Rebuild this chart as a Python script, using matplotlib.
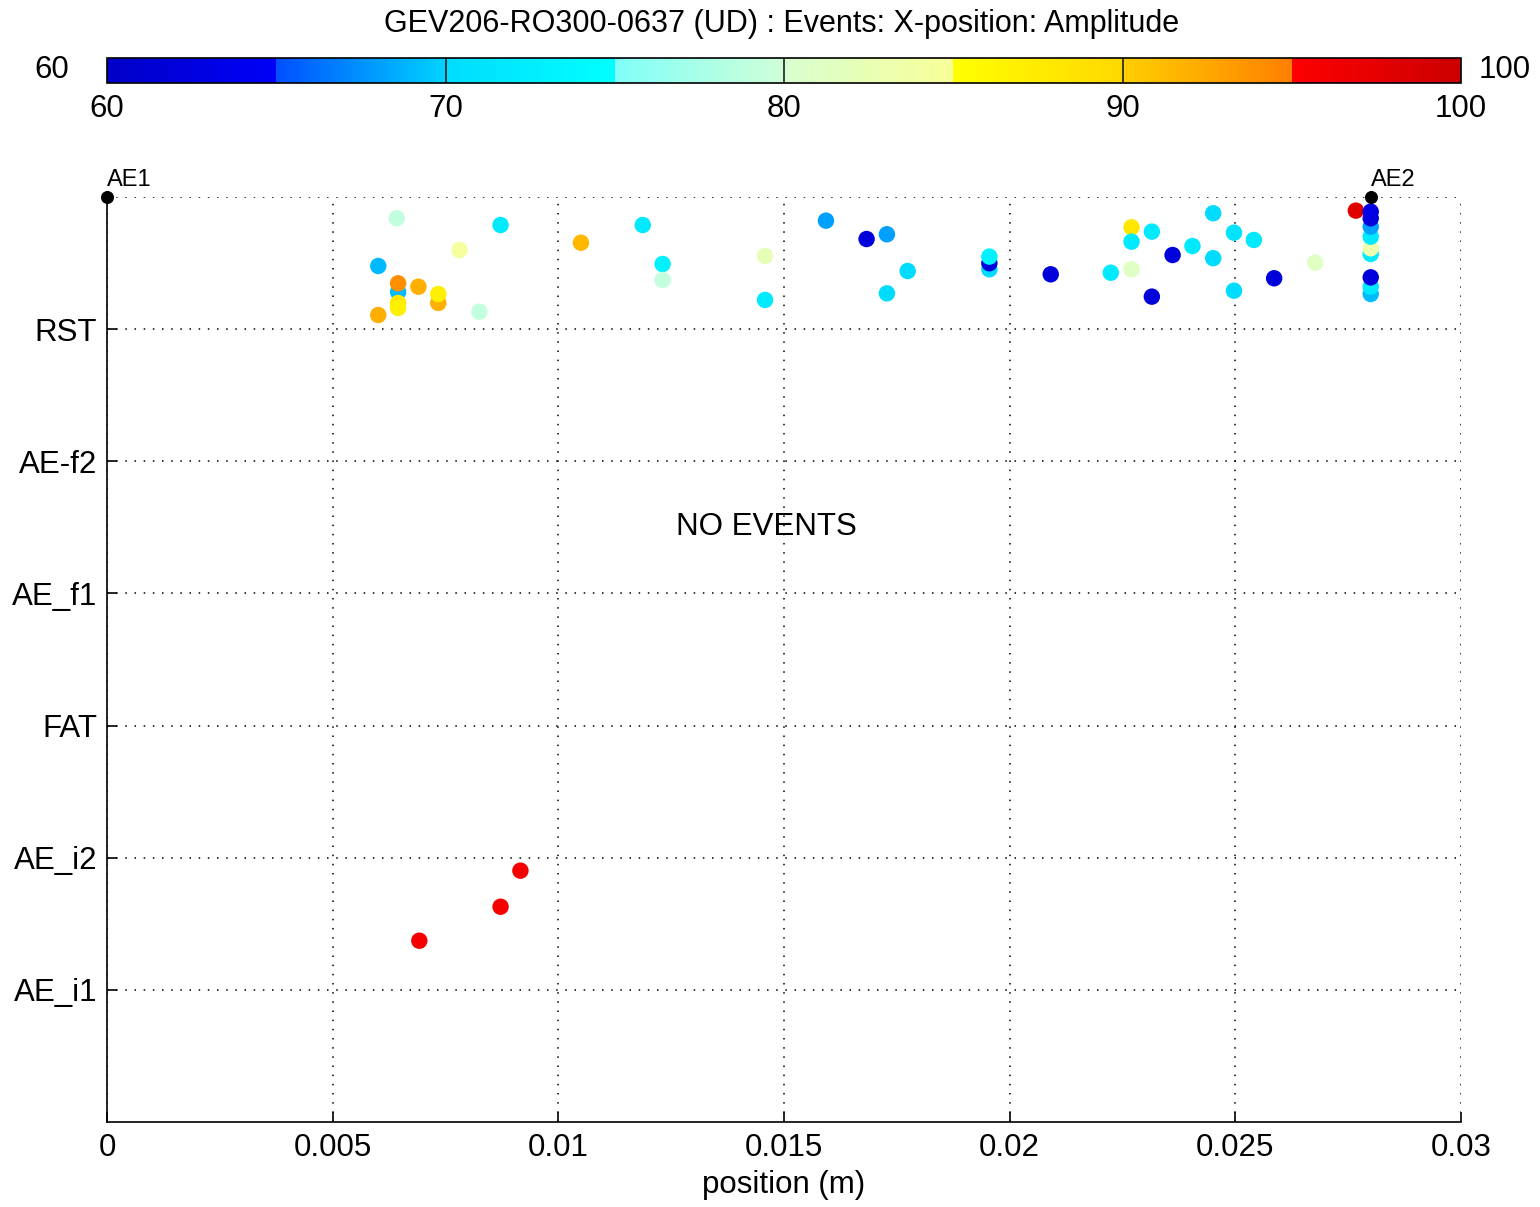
import numpy as np
import matplotlib
matplotlib.use('Agg')
import matplotlib.pyplot as plt
from matplotlib.colors import ListedColormap, Normalize
from matplotlib.cm import ScalarMappable

plt.rcParams['font.family'] = ['Liberation Sans', 'DejaVu Sans']

title = 'GEV206-RO300-0637 (UD) : Events: X-position: Amplitude'
level_labels = ['AE_i1', 'AE_i2', 'FAT', 'AE_f1', 'AE-f2', 'RST']
level_ticks = [1, 2, 3, 4, 5, 6]

# RST events: position (m), vertical spread inside the RST row, amplitude (dB)
rst_x = [0.00642, 0.00872, 0.00781, 0.00601, 0.00645, 0.00645, 0.00690, 0.00734,
         0.00734, 0.00645, 0.00645, 0.00601, 0.00825, 0.01050, 0.01187, 0.01231,
         0.01231, 0.01458, 0.01458, 0.01593, 0.01683, 0.01728, 0.01774, 0.01728,
         0.01955, 0.01955, 0.01955, 0.02091, 0.02224, 0.02270, 0.02270, 0.02270,
         0.02315, 0.02315, 0.02361, 0.02405, 0.02451, 0.02451, 0.02497, 0.02497,
         0.02541, 0.02586, 0.02677, 0.02767,
         0.0280, 0.0280, 0.0280, 0.0280, 0.0280, 0.0280, 0.0280, 0.0280, 0.0280]
rst_y = [6.839, 6.788, 6.599, 6.478, 6.281, 6.347, 6.321, 6.198,
         6.266, 6.198, 6.160, 6.107, 6.132, 6.654, 6.788, 6.493,
         6.372, 6.554, 6.221, 6.821, 6.682, 6.718, 6.440, 6.271,
         6.453, 6.499, 6.549, 6.415, 6.427, 6.771, 6.662, 6.453,
         6.738, 6.246, 6.561, 6.629, 6.877, 6.537, 6.730, 6.291,
         6.675, 6.385, 6.503, 6.897,
         6.266, 6.321, 6.392, 6.569, 6.612, 6.700, 6.776, 6.839, 6.889]
rst_amp = [79, 72, 84.5, 69, 69, 94, 92, 92,
           87, 88, 87, 92, 79, 91.5, 72, 73,
           79, 82, 72, 68, 62, 68, 70, 70,
           70, 62, 73, 62, 72, 88, 72, 81,
           72, 62, 62, 72, 70, 70, 71, 70,
           72, 62, 81, 98,
           69, 72, 62, 72, 83, 72, 68, 62, 63]

# AE_i2 events
ai2_x = [0.00916, 0.00872, 0.00692]
ai2_y = [1.902, 1.629, 1.372]
ai2_amp = [96, 96, 96]

sensor_x = [0.0, 0.0280]
sensor_names = ['AE1', 'AE2']

# piecewise colour scale, as drawn in the source colour bar
seg_edges = [60, 65, 70, 75, 80, 85, 90, 95, 100]
seg_start = ['#0000c8', '#0050ff', '#00dcff', '#80fff8', '#d8ffd0', '#ffff00', '#ffd000', '#ff0000']
seg_end = ['#0000f8', '#00d4ff', '#00ffff', '#d0ffd8', '#f8ff98', '#ffd800', '#ff8000', '#cc0000']


def build_cmap(n=400):
    vals = np.linspace(seg_edges[0], seg_edges[-1], n)
    cols = []
    for v in vals:
        i = min(np.searchsorted(seg_edges, v, side='right') - 1, len(seg_start) - 1)
        t = (v - seg_edges[i]) / (seg_edges[i + 1] - seg_edges[i])
        c0 = np.array(matplotlib.colors.to_rgb(seg_start[i]))
        c1 = np.array(matplotlib.colors.to_rgb(seg_end[i]))
        cols.append(c0 + (c1 - c0) * t)
    return ListedColormap(cols)


cmap = build_cmap()
norm = Normalize(60, 100)

fig = plt.figure(figsize=(15.4, 12.07), dpi=100)
ax = fig.add_axes([107 / 1540, 1 - 1122 / 1207, 1354 / 1540, 925 / 1207])
cax = fig.add_axes([107 / 1540, 1 - 83 / 1207, 1354 / 1540, 25 / 1207])

ax.scatter(rst_x, rst_y, c=rst_amp, cmap=cmap, norm=norm, s=140, linewidths=0, zorder=3)
ax.scatter(ai2_x, ai2_y, c=ai2_amp, cmap=cmap, norm=norm, s=140, linewidths=0, zorder=3)

ax.scatter(sensor_x, [7, 7], color='black', s=70, zorder=4, clip_on=False)
for x, name in zip(sensor_x, sensor_names):
    ax.annotate(name, (x, 7), xytext=(0, 4), textcoords='offset points',
                ha='left', va='bottom', fontsize=17)

ax.text(0.0146, 4.5, 'NO EVENTS', ha='center', va='center', fontsize=22.5)

ax.set_xlim(0, 0.03)
ax.set_ylim(0, 7)
ax.set_xticks([0, 0.005, 0.01, 0.015, 0.02, 0.025, 0.03])
ax.set_xticklabels(['0', '0.005', '0.01', '0.015', '0.02', '0.025', '0.03'])
ax.set_yticks(level_ticks)
ax.set_yticklabels(level_labels)
ax.tick_params(direction='in', length=7, labelsize=22.5, width=1.2)
ax.tick_params(axis='x', pad=8)
ax.tick_params(axis='y', pad=7)
ax.set_xlabel('position (m)', fontsize=22.5, labelpad=5)
ax.grid(True, color='black', linestyle=(0, (1, 5)), linewidth=1.1)
ax.axhline(7, color='black', linestyle=(0, (1, 5)), linewidth=1.1)
for s in ['top', 'right']:
    ax.spines[s].set_visible(False)
for s in ['left', 'bottom']:
    ax.spines[s].set_linewidth(1.2)

sm = ScalarMappable(norm=norm, cmap=cmap)
cb = fig.colorbar(sm, cax=cax, orientation='horizontal')
cb.set_ticks([60, 70, 80, 90, 100])
cb.outline.set_linewidth(1.2)
cax.tick_params(length=0, labelsize=22.5, pad=8)
for v in [70, 80, 90]:
    cax.axvline(v, color='#202020', linewidth=1.2)
fig.text(52 / 1540, 1 - 70 / 1207, '60', ha='center', va='center', fontsize=22.5)
fig.text(1505 / 1540, 1 - 70 / 1207, '100', ha='center', va='center', fontsize=22.5)
fig.text(782 / 1540, 1 - 24 / 1207, title, ha='center', va='center', fontsize=22)

fig.savefig('out.png', dpi=100)
